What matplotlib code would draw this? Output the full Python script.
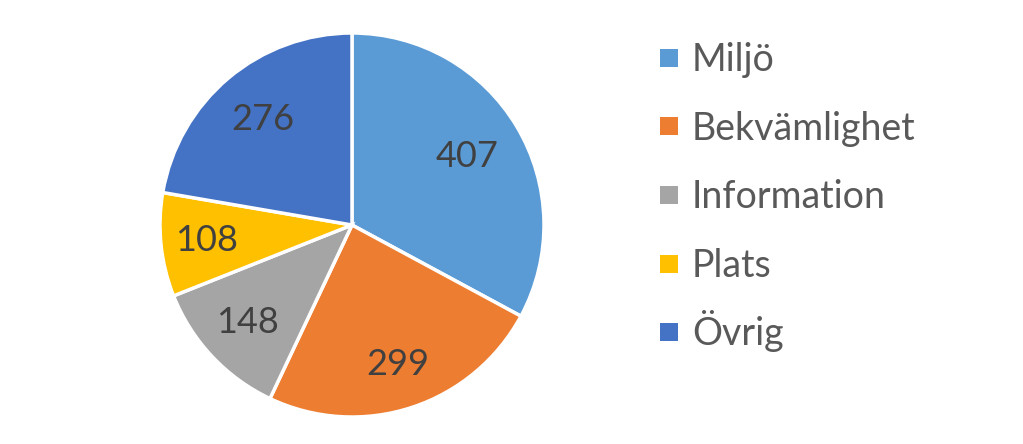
import numpy as np
import matplotlib.pyplot as plt
from matplotlib.patches import Rectangle

labels = ['Miljö', 'Bekvämlighet', 'Information', 'Plats', 'Övrig']
values = [407, 299, 148, 108, 276]
colors = ['#5B9BD5', '#ED7D31', '#A5A5A5', '#FFC000', '#4472C4']

plt.rcParams['font.family'] = ['Lato', 'DejaVu Sans']

W, H = 1023, 444
fig = plt.figure(figsize=(W / 100, H / 100), dpi=100)
cx, cy, r = 352, 225, 192
ax = fig.add_axes([(cx - r) / W, (H - cy - r) / H, 2 * r / W, 2 * r / H])

wedges, texts = ax.pie(values, colors=colors, startangle=90, counterclock=False,
                       labels=[str(v) for v in values], labeldistance=0.7,
                       wedgeprops=dict(edgecolor='white', linewidth=2.5),
                       textprops=dict(fontsize=26, color='#404040'))
# label radius per slice (Excel put them slightly differently)
label_r = [0.70, 0.765, 0.745, 0.76, 0.72]
for w, t, lr in zip(wedges, texts, label_r):
    mid = np.deg2rad((w.theta1 + w.theta2) / 2)
    t.set_position((lr * np.cos(mid), lr * np.sin(mid)))
    t.set_horizontalalignment('center')
    t.set_verticalalignment('center')
ax.set_xlim(-1, 1)
ax.set_ylim(-1, 1)
ax.set_aspect('equal')

# legend by hand so the rows are evenly spaced like the original
for i, (lab, col) in enumerate(zip(labels, colors)):
    y = 58 + 68.5 * i
    fig.add_artist(Rectangle((660 / W, 1 - (y + 9) / H), 18 / W, 18 / H,
                             transform=fig.transFigure, facecolor=col, edgecolor='none'))
    fig.text(692 / W, 1 - (y + 13) / H, lab, fontsize=27, color='#595959',
             ha='left', va='baseline')

plt.savefig('out.png', dpi=100)
